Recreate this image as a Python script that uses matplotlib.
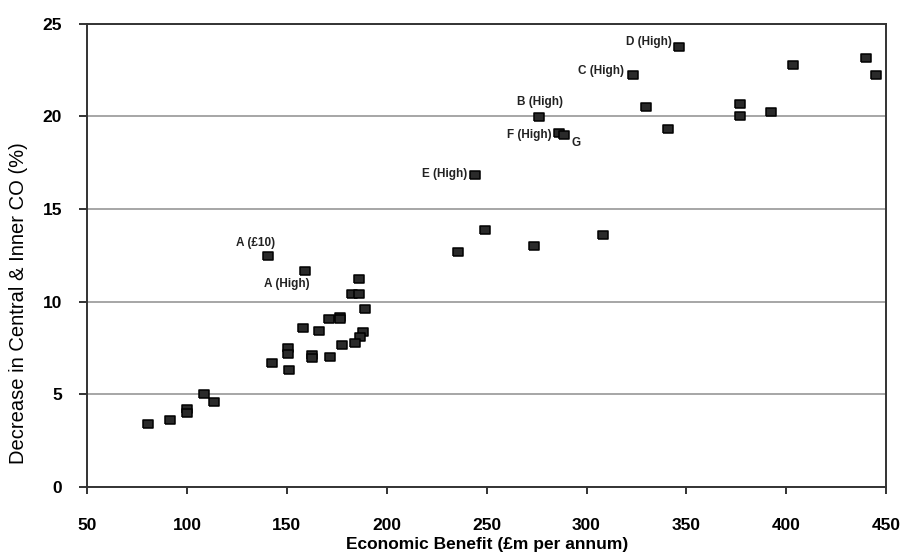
import numpy as np
import matplotlib
matplotlib.use("Agg")
import matplotlib.pyplot as plt

plt.rcParams['font.family'] = ['Liberation Sans', 'DejaVu Sans']

# economic benefit (£m per annum) and decrease in CO (%)
benefit = [80.5, 91.6, 99.9, 99.9, 108.6, 113.6,
           140.8, 159.1, 142.5, 150.8, 150.8, 151.1, 158.3, 162.5, 162.5,
           166.1, 171.0, 171.6, 176.7, 176.7, 177.8, 182.5, 186.3, 186.3,
           189.2, 188.3, 186.7, 184.3,
           235.9, 244.2, 249.2, 273.6, 276.4, 286.0, 288.8, 308.3,
           323.2, 329.8, 341.0, 346.4, 376.6, 376.9, 392.3, 403.1,
           440.0, 444.8]
co_decrease = [3.4, 3.6, 4.2, 4.0, 5.0, 4.6,
               12.46, 11.65, 6.7, 7.48, 7.2, 6.3, 8.56, 7.1, 6.95,
               8.43, 9.04, 7.0, 9.15, 9.04, 7.64, 10.41, 10.41, 11.24,
               9.58, 8.38, 8.11, 7.78,
               12.66, 16.83, 13.88, 12.98, 19.97, 19.11, 18.99, 13.59,
               22.2, 20.51, 19.33, 23.75, 20.64, 20.01, 20.24, 22.76,
               23.14, 22.24]

# labelled scenarios: (label, x, y)
labels = [("A (£10)", 140.8, 12.46), ("A (High)", 159.1, 11.65),
          ("E (High)", 244.2, 16.83), ("B (High)", 276.4, 19.97),
          ("F (High)", 286.0, 19.11), ("G", 288.8, 18.99),
          ("C (High)", 323.2, 22.2), ("D (High)", 346.4, 23.75)]
# offsets in pixels and alignment for each label
label_pos = {"A (£10)": (-13, 13, "center"), "A (High)": (-18, -13, "center"),
             "E (High)": (-8, 1, "right"), "B (High)": (1, 15, "center"),
             "F (High)": (-7, -2, "right"), "G": (7, -8, "left"),
             "C (High)": (-9, 4, "right"), "D (High)": (-7, 5, "right")}

fig = plt.figure(figsize=(9.02, 5.54), dpi=100)
ax = fig.add_axes([0.0965, 0.121, 0.886, 0.8365])

rect = [(-1.5, -1), (1.5, -1), (1.5, 1), (-1.5, 1), (-1.5, -1)]
ax.scatter(benefit, co_decrease, marker=rect, s=58, facecolor='#2a2a2a',
           edgecolor='black', linewidths=1.1, zorder=3)

for name, x, y in labels:
    dx, dy, ha = label_pos[name]
    ax.annotate(name, (x, y), xytext=(dx, dy), textcoords='offset pixels',
                ha=ha, va='center', fontsize=8.5, fontweight='bold', color='#222222')

ax.set_xlim(50, 450)
ax.set_ylim(0, 25)
ax.set_xticks(np.arange(50, 451, 50))
ax.set_yticks(np.arange(0, 26, 5))
ax.yaxis.grid(True, color='#a6a6a6', linewidth=1.4)
ax.set_axisbelow(True)

for s in ax.spines.values():
    s.set_color('#333333')
    s.set_linewidth(1.4)

ax.tick_params(axis='x', direction='out', length=5, width=1.4, pad=17,
               labelsize=12.5, color='#333333')
ax.tick_params(axis='y', direction='out', length=6, width=1.4, pad=12,
               labelsize=12.5, color='#333333')
for t in ax.get_xticklabels() + ax.get_yticklabels():
    t.set_fontweight('bold')

ax.set_xlabel('Economic Benefit (£m per annum)', fontsize=12.5, fontweight='bold', labelpad=3)
ax.set_ylabel('Decrease in Central & Inner CO (%)', fontsize=14.5, labelpad=8)
ax.yaxis.set_label_coords(-0.074, 0.397)

fig.savefig('out.png', dpi=100)
